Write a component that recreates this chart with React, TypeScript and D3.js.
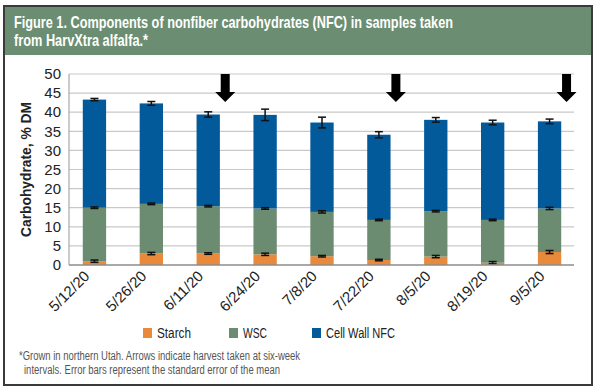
import * as d3 from 'd3';
import { useMemo } from 'react';

// Sampling dates
const DATES = ['5/12/20', '5/26/20', '6/11/20', '6/24/20', '7/8/20', '7/22/20', '8/5/20', '8/19/20', '9/5/20'];

// Components, % DM
const STARCH = [1.0, 3.0, 3.0, 2.8, 2.3, 1.3, 2.2, 0.6, 3.4];
const WSC = [14.0, 13.0, 12.4, 12.0, 11.6, 10.5, 11.9, 11.2, 11.4];
const CELL_WALL = [28.3, 26.3, 24.0, 24.5, 23.4, 22.3, 23.9, 25.5, 22.8];

// Standard errors
const STARCH_SE = [0.3, 0.3, 0.2, 0.3, 0.2, 0.2, 0.3, 0.3, 0.4];
const WSC_SE = [0.2, 0.2, 0.2, 0.2, 0.3, 0.2, 0.2, 0.2, 0.3];
const CELL_WALL_SE = [0.3, 0.5, 0.7, 1.5, 1.4, 0.8, 0.6, 0.6, 0.6];

// Harvest dates (arrows)
const HARVESTS = ['6/11/20', '7/22/20', '9/5/20'];

const Y_TICKS = [0, 5, 10, 15, 20, 25, 30, 35, 40, 45, 50];

const SERIES = [
  { name: 'Starch', values: STARCH, se: STARCH_SE, color: '#e8893b' },
  { name: 'WSC', values: WSC, se: WSC_SE, color: '#6b8c70' },
  { name: 'Cell Wall NFC', values: CELL_WALL, se: CELL_WALL_SE, color: '#035a9b' },
];

const W = 600;
const H = 392;
const PLOT = { left: 69, right: 574, top: 74, bottom: 265 };
const FONT = '"Liberation Sans", Arial, sans-serif';

export default function App() {
  const x = useMemo(
    () => d3.scaleBand().domain(DATES).range([66, 578]).paddingInner(0.59).paddingOuter(0.295),
    []
  );
  const y = useMemo(() => d3.scaleLinear().domain([0, 50]).range([PLOT.bottom, PLOT.top]), []);

  const table = DATES.map((date, i) => ({ date, starch: STARCH[i], wsc: WSC[i], cellWall: CELL_WALL[i] }));
  const stack = d3.stack<any>().keys(['starch', 'wsc', 'cellWall'])(table);

  const bw = x.bandwidth();

  return (
    <svg width={W} height={H} style={{ position: 'absolute', left: 0, top: 0, background: '#fff' }}>
      <rect x={4} y={6} width={588} height={379} fill="#fff" stroke="#3a3a3a" strokeWidth={2} />
      <rect x={5} y={7} width={586} height={48} fill="#6b8e72" />
      <text x={14} y={28} fill="#fff" fontFamily={FONT} fontWeight="bold" fontSize={17} textLength={439} lengthAdjust="spacingAndGlyphs">
        Figure 1. Components of nonfiber carbohydrates (NFC) in samples taken
      </text>
      <text x={14} y={46} fill="#fff" fontFamily={FONT} fontWeight="bold" fontSize={17} textLength={134} lengthAdjust="spacingAndGlyphs">
        from HarvXtra alfalfa.*
      </text>

      {/* grid */}
      {Y_TICKS.map((t) => (
        <g key={t}>
          {t > 0 && <line x1={PLOT.left} x2={PLOT.right} y1={y(t)} y2={y(t)} stroke="#c9c9c9" strokeWidth={1.2} />}
          <text x={61} y={y(t)} dy="0.35em" textAnchor="end" fontFamily={FONT} fontSize={15} fill="#222">
            {t}
          </text>
        </g>
      ))}
      <line x1={PLOT.left} x2={PLOT.left} y1={PLOT.top} y2={PLOT.bottom} stroke="#a8a8a8" strokeWidth={1.2} />

      {/* bars */}
      {stack.map((layer, si) => (
        <g key={layer.key}>
          {layer.map((d, i) => (
            <rect
              key={i}
              x={x(DATES[i])}
              y={y(d[1])}
              width={bw}
              height={y(d[0]) - y(d[1])}
              fill={SERIES[si].color}
            />
          ))}
        </g>
      ))}

      {/* error bars */}
      {stack.map((layer, si) => (
        <g key={'e' + layer.key} stroke="#111" strokeWidth={1.5}>
          {layer.map((d, i) => {
            const cx = (x(DATES[i]) as number) + bw / 2;
            const se = SERIES[si].se[i];
            const y1 = y(d[1] + se);
            const y2 = y(d[1] - se);
            return (
              <g key={i}>
                <line x1={cx} x2={cx} y1={y1} y2={y2} />
                <line x1={cx - 4} x2={cx + 4} y1={y1} y2={y1} />
                <line x1={cx - 4} x2={cx + 4} y1={y2} y2={y2} />
              </g>
            );
          })}
        </g>
      ))}

      <line x1={PLOT.left} x2={PLOT.right} y1={PLOT.bottom} y2={PLOT.bottom} stroke="#8c8c8c" strokeWidth={1.5} />

      {/* harvest arrows */}
      {HARVESTS.map((h) => {
        const cx = (x(h) as number) + bw / 2 + 17;
        const top = PLOT.top;
        const neck = top + 18;
        const tip = top + 28;
        return (
          <path
            key={h}
            d={`M${cx - 4.5},${top} L${cx + 4.5},${top} L${cx + 4.5},${neck} L${cx + 10},${neck} L${cx},${tip} L${cx - 10},${neck} L${cx - 4.5},${neck} Z`}
            fill="#000"
          />
        );
      })}

      {/* x labels */}
      {DATES.map((dt) => {
        const cx = (x(dt) as number) + bw / 2 - 4;
        return (
          <text
            key={dt}
            transform={`translate(${cx},${PLOT.bottom + 12}) rotate(-45)`}
            textAnchor="end"
            fontFamily={FONT}
            fontSize={15}
            fill="#222"
          >
            {dt}
          </text>
        );
      })}

      {/* y title */}
      <text
        transform={`translate(31,${(PLOT.top + PLOT.bottom) / 2}) rotate(-90)`}
        textAnchor="middle"
        fontFamily={FONT}
        fontWeight="bold"
        fontSize={15}
        fill="#222"
        textLength={135}
        lengthAdjust="spacingAndGlyphs"
      >
        Carbohydrate, % DM
      </text>

      {/* legend */}
      {SERIES.map((s, i) => {
        const lx = [143, 229, 312][i];
        const tl = [34, 24, 69][i];
        return (
          <g key={s.name}>
            <rect x={lx} y={328} width={9} height={10} fill={s.color} />
            <text
              x={lx + 14}
              y={333}
              dy="0.35em"
              fontFamily={FONT}
              fontSize={14}
              fill="#222"
              textLength={tl}
              lengthAdjust="spacingAndGlyphs"
            >
              {s.name}
            </text>
          </g>
        );
      })}

      {/* footnote */}
      <text x={19} y={360} fontFamily={FONT} fontSize={12} fill="#555" textLength={281} lengthAdjust="spacingAndGlyphs">
        *Grown in northern Utah. Arrows indicate harvest taken at six-week
      </text>
      <text x={24} y={374} fontFamily={FONT} fontSize={12} fill="#555" textLength={256} lengthAdjust="spacingAndGlyphs">
        intervals. Error bars represent the standard error of the mean
      </text>
    </svg>
  );
}
